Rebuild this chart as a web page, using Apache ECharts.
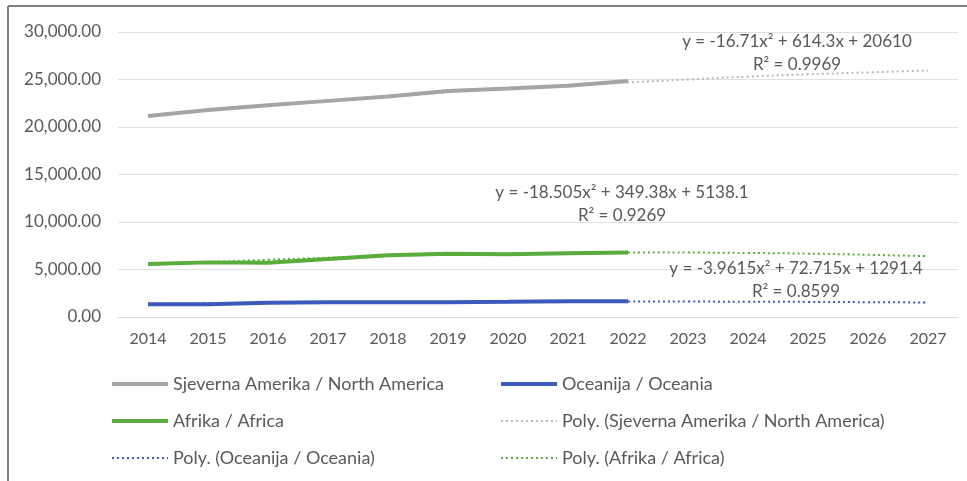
<!DOCTYPE html>
<html>
<head>
<meta charset="utf-8">
<script src="https://cdn.jsdelivr.net/npm/echarts@6/dist/echarts.min.js"></script>
<style>html,body{margin:0;padding:0;background:#fff}#c{width:967px;height:481px}</style>
</head>
<body>
<div id="c"></div>
<script>
var years = ['2014','2015','2016','2017','2018','2019','2020','2021','2022','2023','2024','2025','2026','2027'];
var northAmerica = [21150, 21800, 22300, 22750, 23200, 23800, 24050, 24350, 24850];
var oceania = [1350, 1350, 1500, 1550, 1550, 1560, 1600, 1650, 1650];
var africa = [5570, 5750, 5700, 6100, 6500, 6650, 6600, 6700, 6800];
var polyNorthAmerica = [21200, 21750, 22300, 22750, 23200, 23650, 24050, 24400, 24700, 25000, 25300, 25550, 25750, 25950];
var polyOceania = [1360, 1420, 1470, 1520, 1550, 1580, 1600, 1620, 1620, 1620, 1610, 1590, 1560, 1530];
var polyAfrica = [5470, 5760, 6020, 6240, 6420, 6570, 6680, 6750, 6780, 6780, 6740, 6670, 6550, 6400];
var eqNorthAmerica = ['y = -16.71x² + 614.3x + 20610', 'R² = 0.9969'];
var eqAfrica = ['y = -18.505x² + 349.38x + 5138.1', 'R² = 0.9269'];
var eqOceania = ['y = -3.9615x² + 72.715x + 1291.4', 'R² = 0.8599'];

var FONT = 'Lato';
var TXT = '#595959';
var cGray = '#a5a5a5', cBlue = '#3a5bbd', cGreen = '#5aac3c';

function solid(name, data, color) {
  return { name: name, type: 'line', data: data, symbol: 'none', smooth: false, z: 5,
    lineStyle: { color: color, width: 4 }, itemStyle: { color: color } };
}
function poly(name, data, color) {
  return { name: name, type: 'line', data: data, symbol: 'none', smooth: true, z: 3,
    lineStyle: { color: color, width: 2, type: [2, 3] }, itemStyle: { color: color } };
}
function eqText(lines, x, y) {
  return lines.map(function (t, i) {
    return { type: 'text', x: x, y: y + i * 23, style: { text: t, font: '17px ' + FONT, fill: TXT, align: 'center', verticalAlign: 'middle' }, z: 10 };
  });
}
var legendBase = {
  orient: 'vertical', itemWidth: 56, itemHeight: 1, itemGap: 17, padding: 0,
  itemStyle: { opacity: 0 },
  lineStyle: { width: 'inherit' },
  textStyle: { fontFamily: FONT, fontSize: 18, color: TXT, lineHeight: 20 }
};
var chart = echarts.init(document.getElementById('c'));
chart.setOption({
  animation: false,
  backgroundColor: '#fff',
  grid: { left: 118, right: 9, top: 32, bottom: 164, containLabel: false },
  xAxis: {
    type: 'category', data: years, boundaryGap: true,
    axisLine: { show: true, lineStyle: { color: '#d9d9d9', width: 1 } },
    axisTick: { show: false },
    axisLabel: { color: TXT, fontFamily: FONT, fontSize: 16, margin: 14 }
  },
  yAxis: {
    type: 'value', min: 0, max: 30000, interval: 5000,
    axisLine: { show: false }, axisTick: { show: false },
    splitLine: { lineStyle: { color: '#e0e0e0', width: 1 } },
    axisLabel: { color: TXT, fontFamily: FONT, fontSize: 17, margin: 17,
      formatter: function (v) { return v.toLocaleString('en-US', { minimumFractionDigits: 2, maximumFractionDigits: 2 }); } }
  },
  legend: [
    Object.assign({}, legendBase, { left: 110, top: 374, data: ['Sjeverna Amerika / North America', 'Afrika / Africa', 'Poly. (Oceanija / Oceania)'] }),
    Object.assign({}, legendBase, { left: 499, top: 374, data: ['Oceanija / Oceania', 'Poly. (Sjeverna Amerika / North America)', 'Poly. (Afrika / Africa)'] })
  ],
  series: [
    poly('Poly. (Sjeverna Amerika / North America)', polyNorthAmerica, '#b8b8b8'),
    poly('Poly. (Oceanija / Oceania)', polyOceania, cBlue),
    poly('Poly. (Afrika / Africa)', polyAfrica, cGreen),
    solid('Sjeverna Amerika / North America', northAmerica, cGray),
    solid('Oceanija / Oceania', oceania, cBlue),
    solid('Afrika / Africa', africa, cGreen)
  ],
  graphic: [
    { type: 'line', shape: { x1: 8, y1: 6, x2: 967, y2: 6 }, style: { stroke: '#7f7f7f', lineWidth: 2 } },
    { type: 'line', shape: { x1: 8, y1: 6, x2: 8, y2: 481 }, style: { stroke: '#7f7f7f', lineWidth: 2 } }
  ].concat(eqText(eqNorthAmerica, 797, 42), eqText(eqAfrica, 622, 193), eqText(eqOceania, 796, 269))
});
</script>
</body>
</html>
